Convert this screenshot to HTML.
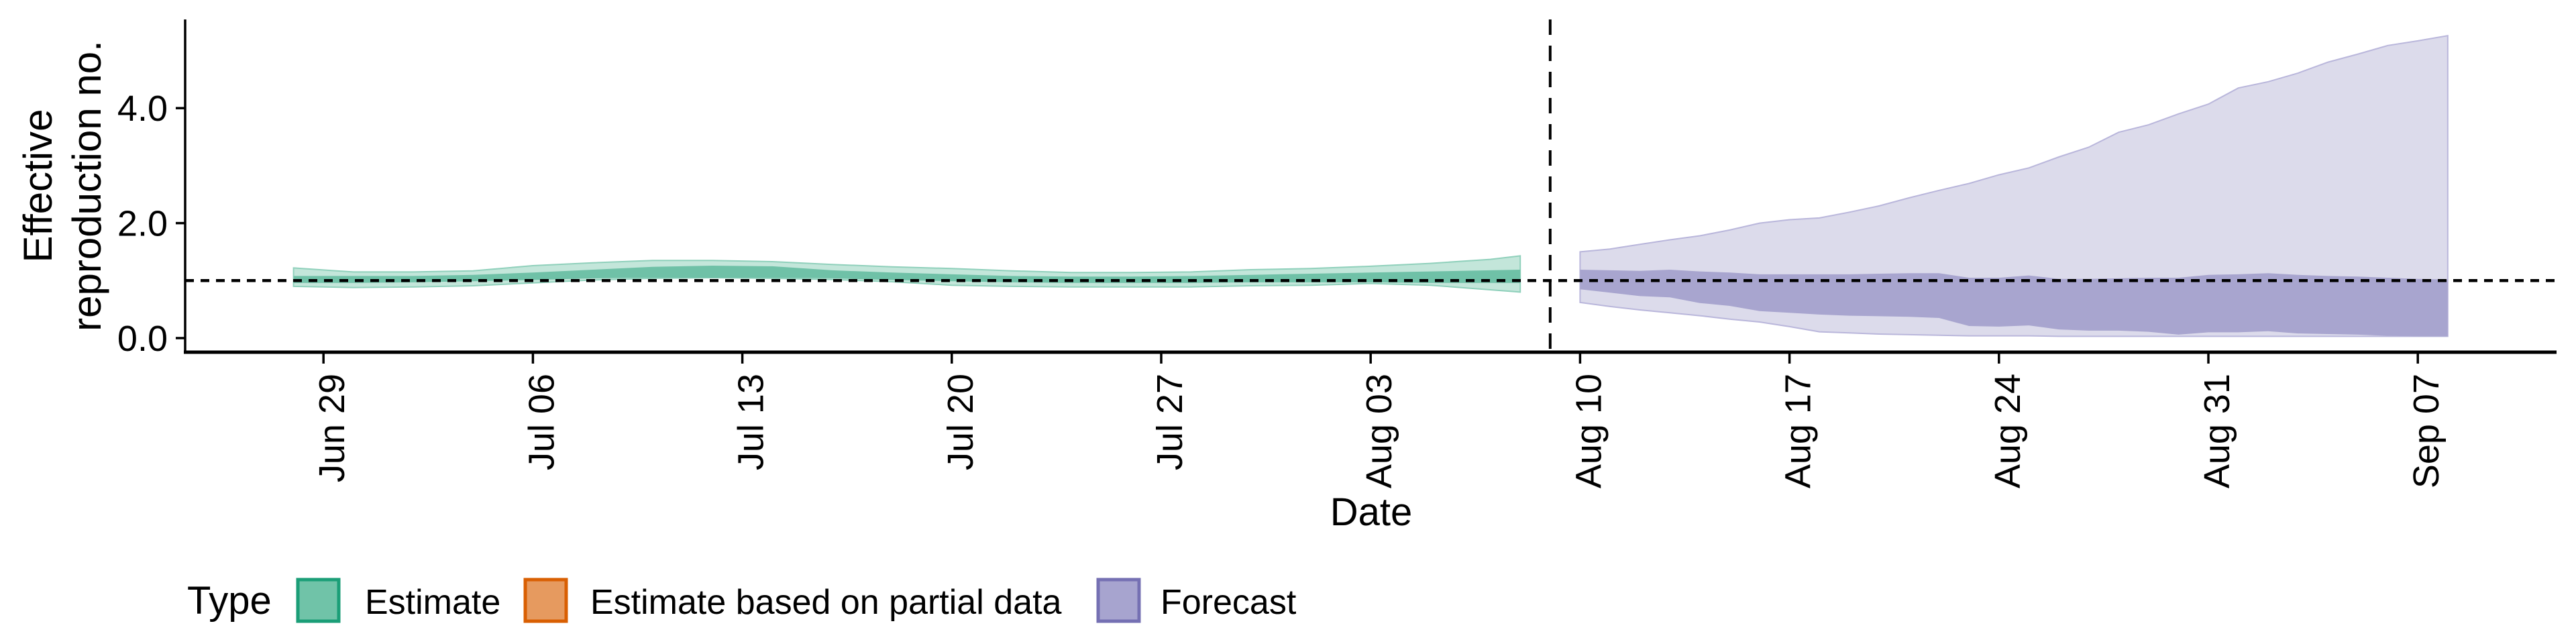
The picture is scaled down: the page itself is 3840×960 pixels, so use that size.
<!DOCTYPE html>
<html><head><meta charset="utf-8"><style>
body{margin:0;background:#fff;}
svg{display:block;font-family:"Liberation Sans",sans-serif;}
</style></head><body>
<svg id="chart" width="3840" height="960" viewBox="0 0 3840 960" xmlns="http://www.w3.org/2000/svg">
<g id="bands"></g>
<g id="axes"></g>
</svg>
<script>
// ---- data ----
const estDays = [0,2,4,6,8,10,12,14,16,18,20,22,24,26,28,30,32,34,36,38,40,41]; // days after Jun 28
const estUpperOuter = [1.22,1.15,1.15,1.17,1.26,1.31,1.35,1.35,1.33,1.28,1.24,1.21,1.17,1.14,1.14,1.15,1.19,1.21,1.25,1.30,1.37,1.43];
const estUpperInner = [1.08,1.08,1.08,1.10,1.14,1.19,1.24,1.26,1.25,1.18,1.14,1.11,1.08,1.07,1.07,1.08,1.10,1.12,1.14,1.16,1.18,1.19];
const estLowerInner = [0.96,0.96,0.97,0.99,1.01,1.04,1.05,1.05,1.05,1.04,1.01,0.99,0.97,0.96,0.96,0.96,0.97,0.97,0.97,0.96,0.96,0.96];
const estLowerOuter = [0.90,0.88,0.89,0.91,0.96,1.01,1.04,1.05,1.04,1.02,0.98,0.92,0.90,0.89,0.89,0.89,0.91,0.92,0.95,0.92,0.84,0.80];
const fcStartDay = 43; // Aug 10
const fcUpperOuter = [1.50,1.55,1.63,1.71,1.78,1.88,2.00,2.06,2.09,2.19,2.30,2.44,2.57,2.69,2.84,2.96,3.15,3.32,3.58,3.71,3.90,4.07,4.35,4.46,4.61,4.80,4.94,5.09,5.17,5.26];
const fcUpperInner = [1.19,1.18,1.17,1.19,1.16,1.14,1.11,1.11,1.11,1.11,1.12,1.13,1.13,1.05,1.05,1.09,1.03,1.03,1.04,1.05,1.05,1.10,1.11,1.13,1.10,1.08,1.07,1.05,1.03,1.02];
const fcLowerInner = [0.85,0.79,0.73,0.71,0.61,0.56,0.47,0.44,0.41,0.39,0.38,0.37,0.35,0.21,0.20,0.22,0.15,0.13,0.13,0.11,0.06,0.10,0.10,0.12,0.08,0.07,0.06,0.04,0.03,0.03];
const fcLowerOuter = [0.62,0.55,0.49,0.44,0.39,0.33,0.28,0.20,0.11,0.09,0.07,0.06,0.05,0.04,0.04,0.04,0.03,0.03,0.03,0.03,0.03,0.03,0.03,0.03,0.03,0.03,0.03,0.03,0.03,0.03];
const xTickDays = [1,8,15,22,29,36,43,50,57,64,71];
const xTickLabels = ["Jun 29","Jul 06","Jul 13","Jul 20","Jul 27","Aug 03","Aug 10","Aug 17","Aug 24","Aug 31","Sep 07"];
const yTicks = [0,2,4];
const yTickLabels = ["0.0","2.0","4.0"];
const forecastCutDay = 42; // Aug 09
const refLine = 1;

// ---- scales ----
const X0 = 437.6, DAY = 44.6;
const x = d => X0 + d*DAY;
const y = v => 504 - v*85.7;
const NS = "http://www.w3.org/2000/svg";
const bands = document.getElementById('bands');
const axes = document.getElementById('axes');
function mk(tag, attrs, parent){const e=document.createElementNS(NS,tag);for(const k in attrs)e.setAttribute(k,attrs[k]);parent.appendChild(e);return e;}
function area(xs, up, lo){
  let d = xs.map((dd,i)=>(i?'L':'M')+x(dd).toFixed(1)+','+y(up[i]).toFixed(1)).join('');
  for(let i=xs.length-1;i>=0;i--) d+='L'+x(xs[i]).toFixed(1)+','+y(lo[i]).toFixed(1);
  return d+'Z';
}
const fcDays = fcUpperOuter.map((_,i)=>fcStartDay+i);

let p;
p = mk('path',{d:area(estDays,estUpperOuter,estLowerOuter),fill:'#c3e6da',stroke:'#8fd0bb','stroke-width':2},bands);


p = mk('path',{d:area(estDays,estUpperInner,estLowerInner),fill:'#6fc1a7'},bands);


p = mk('path',{d:area(fcDays,fcUpperOuter,fcLowerOuter),fill:'#dcdbeb',stroke:'#b9b6db','stroke-width':2},bands);


p = mk('path',{d:area(fcDays,fcUpperInner,fcLowerInner),fill:'#a8a5cf'},bands);



// reference lines
p = mk('line',{x1:276,x2:3811,y1:y(refLine),y2:y(refLine),stroke:'#000','stroke-width':4.5,'stroke-dasharray':'13 10'},axes);


p = mk('line',{x1:x(forecastCutDay),x2:x(forecastCutDay),y1:29,y2:525,stroke:'#000','stroke-width':4,'stroke-dasharray':'23 16'},axes);



// axes
p = mk('line',{x1:276,x2:276,y1:29,y2:527,stroke:'#000','stroke-width':3.5},axes);


p = mk('line',{x1:274,x2:3811,y1:525,y2:525,stroke:'#000','stroke-width':5},axes);



yTicks.forEach((v,i)=>{
  const t = mk('line',{x1:262,x2:276,y1:y(v),y2:y(v),stroke:'#000','stroke-width':3.5},axes);
  
  
  const l = mk('text',{x:250,y:y(v)+19,'text-anchor':'end','font-size':54,fill:'#000'},axes);
  l.textContent = yTickLabels[i];
  
  
});
xTickDays.forEach((d,i)=>{
  const xx = x(d);
  const t = mk('line',{x1:xx,x2:xx,y1:525,y2:542,stroke:'#000','stroke-width':3.5},axes);
  
  
  const l = mk('text',{x:0,y:0,'text-anchor':'end','font-size':54,fill:'#000',transform:`translate(${xx+31},557) rotate(-90)`},axes);
  l.textContent = xTickLabels[i];
  
  
});
</script>
<svg style="position:absolute;left:0;top:0" width="3840" height="960" xmlns="http://www.w3.org/2000/svg" font-family="Liberation Sans, sans-serif">
  <text x="2044" y="783" font-size="58" text-anchor="middle">Date</text>
  <text transform="translate(0,277) rotate(-90)" font-size="60" text-anchor="middle"><tspan x="0" y="77">Effective</tspan><tspan x="0" y="150">reproduction no.</tspan></text>
  <g>
    <text x="279" y="915" font-size="58">Type</text>
    <rect x="444" y="864" width="61" height="62" fill="#70c3a8" stroke="#1b9e77" stroke-width="5"/>
    <text x="544" y="915" font-size="52">Estimate</text>
    <rect x="783" y="864" width="61" height="62" fill="#e69a5f" stroke="#d95f02" stroke-width="5"/>
    <text x="880" y="915" font-size="52">Estimate based on partial data</text>
    <rect x="1637" y="864" width="61" height="62" fill="#a7a4cf" stroke="#7570b3" stroke-width="5"/>
    <text x="1730" y="915" font-size="52">Forecast</text>
  </g>
</svg>
</body></html>
